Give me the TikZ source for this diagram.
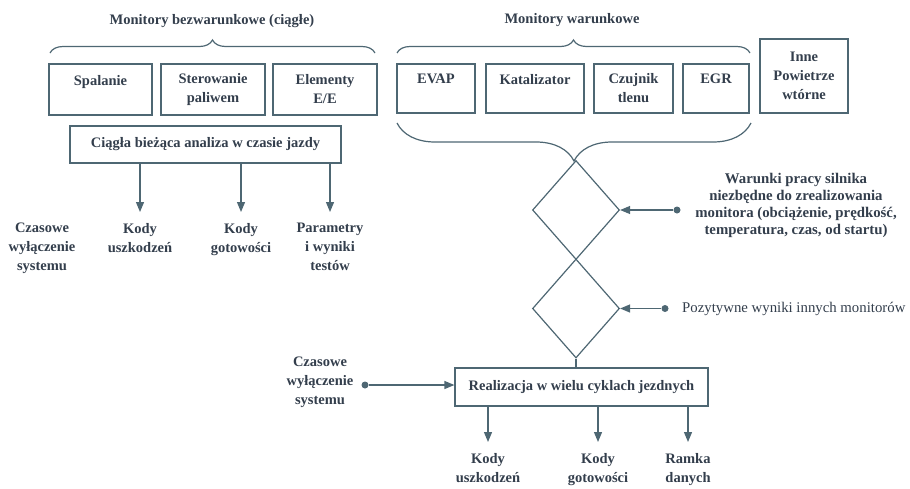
\documentclass[tikz,border=0pt]{standalone}
\usepackage{fontspec}
\setmainfont{Liberation Serif}
\usetikzlibrary{arrows.meta,shapes.geometric,decorations.pathreplacing}
\definecolor{ink}{HTML}{333E4C}
\definecolor{edge}{HTML}{4E6773}

\begin{document}
\begin{tikzpicture}[x=1pt, y=-1pt,
  font=\fontsize{14.5}{19}\selectfont\bfseries,
  every node/.style={text=ink},
  box/.style={draw=edge, line width=1.2pt, minimum height=51pt, inner sep=0pt, align=center},
  romb/.style={diamond, draw=edge, line width=1.2pt, minimum width=87pt, minimum height=99pt, inner sep=0pt},
  opis/.style={align=center, inner sep=0pt, anchor=north},
  kropka/.style={circle, fill=edge, minimum size=7pt, inner sep=0pt},
  linia/.style={draw=edge, line width=1.2pt},
  strz/.style={linia, -{Triangle[length=10pt, width=8pt]}},
  klamra/.style={linia, decorate, decoration={brace, amplitude=#1}}]
  \useasboundingbox (0,0) rectangle (910,488);

  \node (tytul1) at (212,21) {Monitory bezwarunkowe (ciągłe)};
  \draw[klamra=13pt] (50,53) -- (375,53);
  \node[box, minimum width=103pt] (spal) at (100.5,89.5) {Spalanie\\\mbox{}};
  \node[box, minimum width=104pt] (ster) at (213,89.5) {Sterowanie\\paliwem};
  \node[box, minimum width=104pt] (elem) at (325,89.5) {Elementy\\E/E};

  \node (tytul2) at (572,20) {Monitory warunkowe};
  \draw[klamra=13pt] (397,53) -- (750,53);
  \node[box, minimum width=78pt, minimum height=49pt] (evap) at (436,88.5) {EVAP\\\mbox{}};
  \node[box, minimum width=98pt, minimum height=49pt] (kat) at (535,88.5) {Katalizator\\\mbox{}};
  \node[box, minimum width=79pt, minimum height=49pt] (czuj) at (633.5,88.5) {Czujnik\\tlenu};
  \node[box, minimum width=66pt, minimum height=49pt] (egr) at (716,88.5) {EGR\\\mbox{}};
  \node[box, minimum width=88pt, minimum height=74pt] (inne) at (804,76) {Inne\\Powietrze\\wtórne};

  \node[box, minimum width=271pt, minimum height=37pt] (ciagla) at (205.5,144.5) {Ciągła bieżąca analiza w czasie jazdy};
  \node[opis] (czas1) at (42,223) {Czasowe\\wyłączenie\\systemu};
  \node[opis] (kodyu1) at (140,223) {Kody\\uszkodzeń};
  \node[opis] (kodyg1) at (241,223) {Kody\\gotowości};
  \node[opis] (param) at (330,223) {Parametry\\i wyniki\\testów};
  \foreach \n in {kodyu1,kodyg1,param}
    \draw[strz, shorten >=11pt] (ciagla.south -| \n.north) -- (\n.north);

  \draw[klamra=38pt] (751,123) -- (397,123);
  \node[romb] (war1) at (576,210) {};
  \node[romb] (war2) at (576,308.5) {};
  \node[kropka] (k1) at (677,210) {};
  \node[opis, font=\fontsize{14.8}{17}\selectfont\bfseries] (warunki) at (796,173)
    {Warunki pracy silnika\\niezbędne do zrealizowania\\monitora (obciążenie, prędkość,\\temperatura, czas, od startu)};
  \draw[strz] (k1) -- (war1.east);
  \node[kropka] (k2) at (665,308.5) {};
  \node[anchor=west, font=\fontsize{14.8}{19}\selectfont, inner sep=0pt] (pozyt) at (682,308.5) {Pozytywne wyniki innych monitorów};
  \draw[strz] (k2) -- (war2.east);

  \node[box, minimum width=253pt, minimum height=38pt] (real) at (581.5,387) {Realizacja w wielu cyklach jezdnych};
  \draw[linia] (war2.south) -- (war2.south |- real.north);
  \node[opis] (czas2) at (320,357) {Czasowe\\wyłączenie\\systemu};
  \node[kropka] (k3) at (365,385) {};
  \draw[strz] (k3) -- (k3 -| real.west);
  \node[opis] (kodyu2) at (488,453) {Kody\\uszkodzeń};
  \node[opis] (kodyg2) at (598,453) {Kody\\gotowości};
  \node[opis] (ramka) at (688,453) {Ramka\\danych};
  \foreach \n in {kodyu2,kodyg2,ramka}
    \draw[strz, shorten >=11pt] (real.south -| \n.north) -- (\n.north);

\end{tikzpicture}
\end{document}
